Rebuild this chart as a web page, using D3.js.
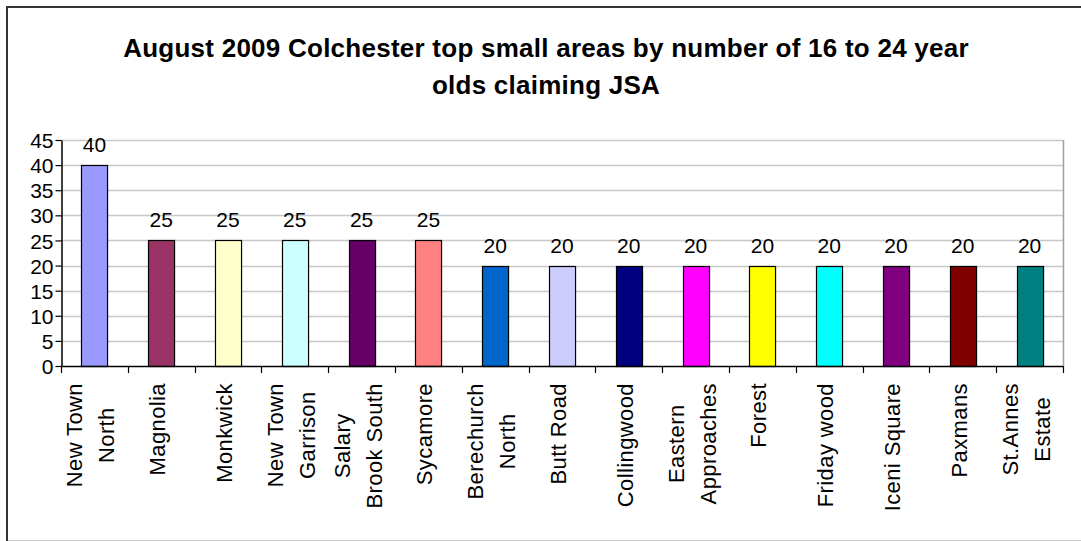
<!DOCTYPE html>
<html>
<head>
<meta charset="utf-8">
<script src="https://cdn.jsdelivr.net/npm/d3@7"></script>
<style>
  html, body { margin: 0; padding: 0; background: #fff; }
  svg { display: block; }
  text { font-family: "Liberation Sans", Arial, sans-serif; fill: #000; }
</style>
</head>
<body>
<svg id="chart" width="1081" height="541"></svg>
<script>
// Small areas (each label split into its display lines)
const areas = [
  ["New Town", "North"],
  ["Magnolia"],
  ["Monkwick"],
  ["New Town", "Garrison"],
  ["Salary", "Brook South"],
  ["Sycamore"],
  ["Berechurch", "North"],
  ["Butt Road"],
  ["Collingwood"],
  ["Eastern", "Approaches"],
  ["Forest"],
  ["Friday wood"],
  ["Iceni Square"],
  ["Paxmans"],
  ["St.Annes", "Estate"]
];
// Number of 16 to 24 year olds claiming JSA
const claimants = [40, 25, 25, 25, 25, 25, 20, 20, 20, 20, 20, 20, 20, 20, 20];
// Bar fills, one per area
const barColors = [
  "#9999FF", "#993366", "#FFFFCC", "#CCFFFF", "#660066",
  "#FF8080", "#0066CC", "#CCCCFF", "#000080", "#FF00FF",
  "#FFFF00", "#00FFFF", "#800080", "#800000", "#008080"
];
const yTicks = [0, 5, 10, 15, 20, 25, 30, 35, 40, 45];
const titleLines = [
  "August 2009 Colchester top small areas by number of 16 to 24 year",
  "olds claiming JSA"
];

const svg = d3.select("#chart");

// Outer chart frame
svg.append("rect")
  .attr("x", 7).attr("y", 7)
  .attr("width", 1090).attr("height", 560)
  .attr("fill", "none").attr("stroke", "#333").attr("stroke-width", 2);
svg.append("line")
  .attr("x1", 8).attr("x2", 1081).attr("y1", 540.5).attr("y2", 540.5)
  .attr("stroke", "#ccc").attr("stroke-width", 1);

// Title
svg.append("text")
  .attr("x", 546).attr("y", 57)
  .attr("text-anchor", "middle")
  .style("font-weight", "bold").style("font-size", "26px")
  .style("letter-spacing", "0.25px")
  .selectAll("tspan").data(titleLines).join("tspan")
  .attr("x", 546).attr("dy", (d, i) => i === 0 ? 0 : 37)
  .text(d => d);

const plot = { left: 61, right: 1063, top: 140, bottom: 366 };

const x = d3.scaleBand()
  .domain(d3.range(areas.length))
  .range([plot.left, plot.right])
  .paddingInner(0.61).paddingOuter(0.305);

const xOuter = d3.scaleBand()
  .domain(d3.range(areas.length))
  .range([plot.left, plot.right]);

const y = d3.scaleLinear().domain([0, 45]).range([plot.bottom, plot.top]);

// Gridlines
svg.append("g").selectAll("line").data(yTicks.filter(t => t > 0)).join("line")
  .attr("x1", plot.left).attr("x2", plot.right)
  .attr("y1", d => Math.round(y(d)) + 0.5).attr("y2", d => Math.round(y(d)) + 0.5)
  .attr("stroke", "#c8c8c8").attr("stroke-width", 1.5);

// Right edge of the plot area
svg.append("line")
  .attr("x1", plot.right + 0.5).attr("x2", plot.right + 0.5)
  .attr("y1", plot.top).attr("y2", plot.bottom)
  .attr("stroke", "#a0a0a0").attr("stroke-width", 1.5);

// Bars
svg.append("g").selectAll("rect").data(claimants).join("rect")
  .attr("x", (d, i) => Math.round(x(i)) + 0.5)
  .attr("y", d => Math.round(y(d)) + 0.5)
  .attr("width", x.bandwidth())
  .attr("height", d => Math.round(y(0)) - Math.round(y(d)))
  .attr("fill", (d, i) => barColors[i])
  .attr("stroke", "#000").attr("stroke-width", 1.2);

// Value labels
svg.append("g").selectAll("text").data(claimants).join("text")
  .attr("x", (d, i) => x(i) + x.bandwidth() / 2)
  .attr("y", d => y(d) - 13)
  .attr("text-anchor", "middle")
  .style("font-size", "21px")
  .text(d => d);

// Y axis
const yAxis = svg.append("g")
  .attr("transform", `translate(${plot.left + 0.5},0)`)
  .call(d3.axisLeft(y).tickValues(yTicks).tickSize(6).tickSizeOuter(0));
yAxis.select(".domain").attr("stroke", "#000").attr("stroke-width", 1.5);
yAxis.selectAll(".tick line").attr("stroke", "#000").attr("stroke-width", 1.2);
yAxis.selectAll(".tick text")
  .attr("x", -8).attr("dy", "0.36em")
  .style("font-size", "21px").style("font-family", "'Liberation Sans', Arial, sans-serif")
  .attr("fill", "#000");

// X axis (ticks between categories)
const xBoundaries = d3.range(areas.length + 1).map(i =>
  i < areas.length ? xOuter(i) : plot.right);
svg.append("line")
  .attr("x1", plot.left).attr("x2", plot.right)
  .attr("y1", plot.bottom + 0.5).attr("y2", plot.bottom + 0.5)
  .attr("stroke", "#000").attr("stroke-width", 1.5);
svg.append("g").selectAll("line").data(xBoundaries).join("line")
  .attr("x1", d => Math.round(d) + 0.5).attr("x2", d => Math.round(d) + 0.5)
  .attr("y1", plot.bottom).attr("y2", plot.bottom + 7)
  .attr("stroke", "#000").attr("stroke-width", 1.2);

// Category labels: rotated blocks hanging below the axis, lines centred on each other
const lineGap = 32;
const labelTop = plot.bottom + 17;
const labels = svg.append("g").selectAll("g").data(areas).join("g")
  .attr("transform", (d, i) => {
    const cx = xOuter(i) + xOuter.bandwidth() / 2;
    return `translate(${cx},${labelTop}) rotate(-90)`;
  });
labels.each(function (lines) {
  const g = d3.select(this);
  const texts = g.selectAll("text").data(lines).join("text")
    .attr("y", (t, j) => 4 + (j - (lines.length - 1) / 2) * lineGap)
    .attr("text-anchor", "middle")
    .style("font-size", "22px")
    .style("letter-spacing", "0.4px")
    .text(t => t);
  const widest = d3.max(texts.nodes(), n => n.getComputedTextLength());
  texts.attr("x", -widest / 2);
});
</script>
</body>
</html>
